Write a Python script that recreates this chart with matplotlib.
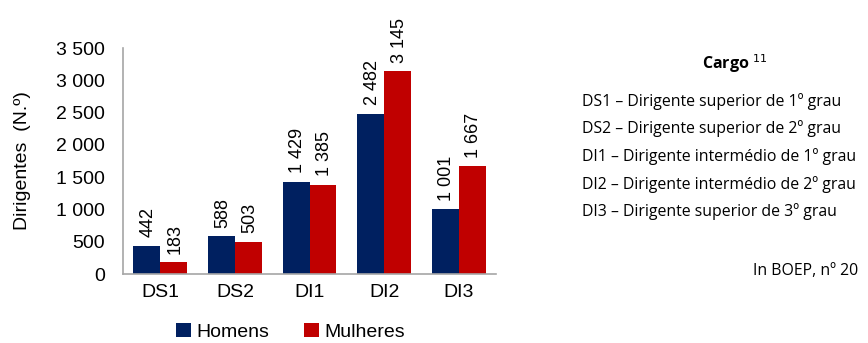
import numpy as np
import matplotlib.pyplot as plt

# dirigentes por cargo e sexo
cargos = ["DS1", "DS2", "DI1", "DI2", "DI3"]
homens = [442, 588, 1429, 2482, 1001]
mulheres = [183, 503, 1385, 3145, 1667]

legenda_cargos = [
    "DS1 – Dirigente superior de 1º grau",
    "DS2 – Dirigente superior de 2º grau",
    "DI1 – Dirigente intermédio de 1º grau",
    "DI2 – Dirigente intermédio de 2º grau",
    "DI3 – Dirigente superior de 3º grau",
]

AZUL = "#002060"
VERMELHO = "#C00000"


def fmt(v):
    # separador de milhares com espaço
    return f"{v:,}".replace(",", " ")


def main():
    plt.rcParams["font.family"] = ["Liberation Sans", "DejaVu Sans"]
    fig = plt.figure(figsize=(8.68, 3.43), dpi=100)
    ax = fig.add_axes([0.1417, 0.201, 0.43, 0.659])

    x = np.arange(len(cargos))
    w = 0.36
    b1 = ax.bar(x - w / 2, homens, w, color=AZUL, label="Homens")
    b2 = ax.bar(x + w / 2, mulheres, w, color=VERMELHO, label="Mulheres")

    for bars in (b1, b2):
        for r in bars:
            v = r.get_height()
            ax.annotate(fmt(int(v)), (r.get_x() + r.get_width() / 2 + 0.02, v),
                        xytext=(0, 6), textcoords="offset points",
                        rotation=90, ha="center", va="bottom", fontsize=13,
                        annotation_clip=False)

    ax.set_xlim(-0.5, len(cargos) - 0.5)
    ax.set_ylim(0, 3500)
    ax.set_yticks(range(0, 3501, 500))
    ax.set_yticklabels([fmt(t) for t in range(0, 3501, 500)], fontsize=14)
    ax.set_xticks(x)
    ax.set_xticklabels(cargos, fontsize=14)
    ax.tick_params(axis="y", length=0, pad=13)
    ax.tick_params(axis="x", length=0, pad=7)
    ax.set_ylabel("Dirigentes  (N.º)", fontsize=14, labelpad=18)

    for s in ("top", "right"):
        ax.spines[s].set_visible(False)
    for s in ("left", "bottom"):
        ax.spines[s].set_color("#A6A6A6")
        ax.spines[s].set_linewidth(1.2)

    fig.legend(loc="lower center", bbox_to_anchor=(0.335, -0.045), ncol=2,
               frameon=False, fontsize=14, handlelength=0.75, handleheight=0.75,
               handletextpad=0.3, columnspacing=1.8)

    # quadro explicativo dos cargos
    fig.text(0.847, 0.815, r"Cargo $^{11}$", fontsize=11.5, fontweight="bold",
             ha="center", va="center", family=["Open Sans", "DejaVu Sans"])
    for i, t in enumerate(legenda_cargos):
        fig.text(0.671, 0.705 - i * 0.0805, t, fontsize=11.4, ha="left",
                 va="center", family=["Open Sans", "DejaVu Sans"])
    fig.text(0.868, 0.21, "In BOEP, nº 20", fontsize=11.4, ha="left",
             va="center", family=["Open Sans", "DejaVu Sans"])

    fig.savefig("out.png", dpi=100)


if __name__ == "__main__":
    main()
